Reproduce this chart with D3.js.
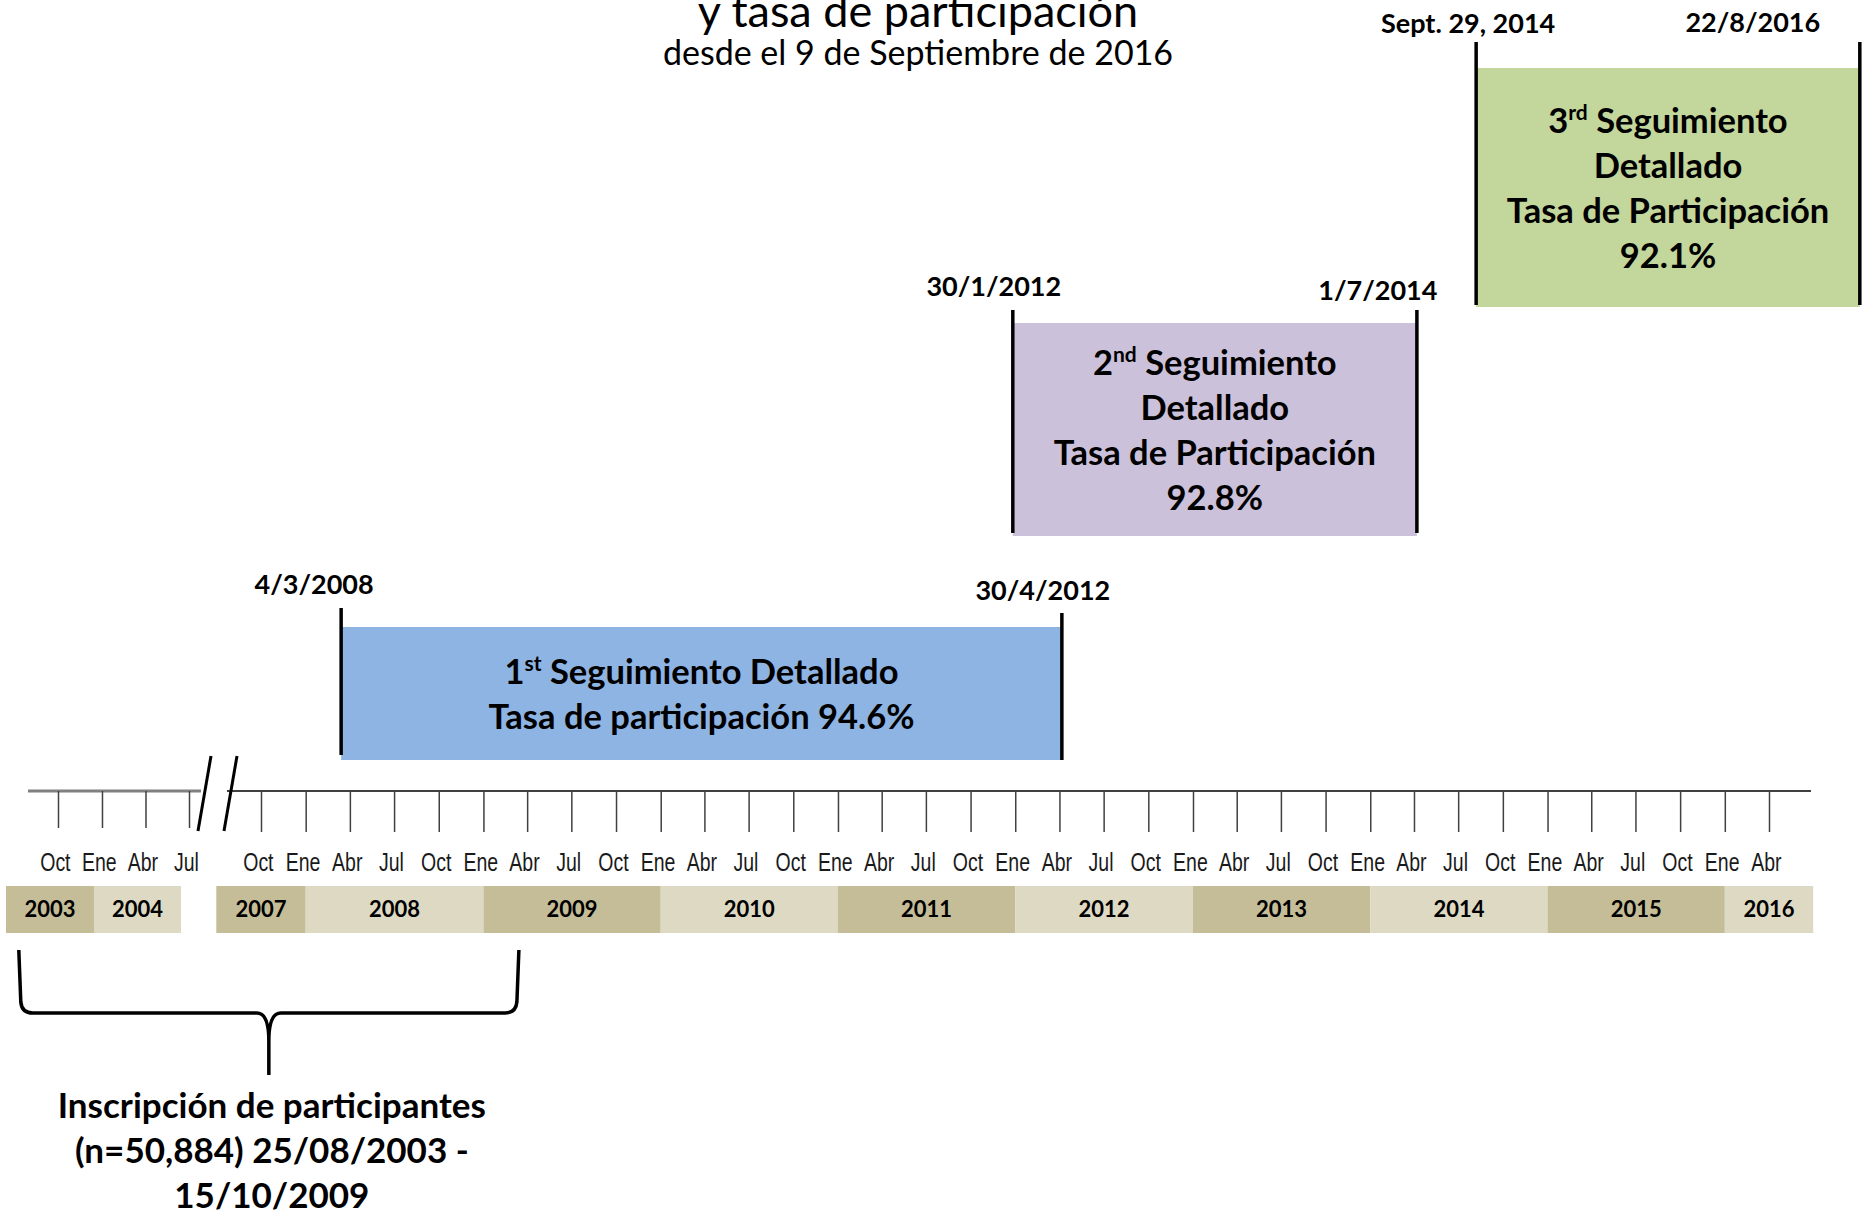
<!DOCTYPE html>
<html>
<head>
<meta charset="utf-8">
<script src="https://cdn.jsdelivr.net/npm/d3@7"></script>
<style>
  body { margin: 0; background: #fff; }
  svg { display: block; }
  .bold { font-family: Lato, "Open Sans", sans-serif; font-weight: 700; fill: #000; }
  .tick text { font-family: "Liberation Sans Narrow", "Liberation Sans", Arial, sans-serif; font-size: 25px; fill: #1a1a1a; }
</style>
</head>
<body>
<div id="chart"></div>
<script>
var width = 1865, height = 1218;

// axis: two pieces with a break between 2004 and 2007
var leftDomain = ["2003-10-01", "2004-07-01"];
var rightDomain = ["2007-10-01", "2016-04-01"];
var monthNames = {0: "Ene", 3: "Abr", 6: "Jul", 9: "Oct"};

// year bands under the axis
var bandYears = ["2003", "2004", "2007", "2008", "2009", "2010", "2011", "2012", "2013", "2014", "2015", "2016"];
var bandStart = ["2003-07-01", "2004-01-01", "2007-07-01", "2008-01-01", "2009-01-01", "2010-01-01", "2011-01-01", "2012-01-01", "2013-01-01", "2014-01-01", "2015-01-01", "2016-01-01"];
var bandEnd = ["2004-01-01", "2004-07-01", "2008-01-01", "2009-01-01", "2010-01-01", "2011-01-01", "2012-01-01", "2013-01-01", "2014-01-01", "2015-01-01", "2016-01-01", "2016-07-01"];

// follow-up periods (start/end as drawn on the picture, labels as written)
var followNum = ["1", "2", "3"];
var followSuffix = ["st", "nd", "rd"];
var followRate = ["94.6%", "92.8%", "92.1%"];
var followStart = ["2008-03-14", "2011-12-27", "2014-08-07"];
var followEnd = ["2012-04-06", "2014-04-07", "2016-10-05"];
var followStartLabel = ["4/3/2008", "30/1/2012", "Sept. 29, 2014"];
var followEndLabel = ["30/4/2012", "1/7/2014", "22/8/2016"];

// enrolment brace
var braceStart = "2003-07-11", braceEnd = "2009-03-15";
var braceLabel = ["Inscripción de participantes", "(n=50,884) 25/08/2003 -", "15/10/2009"];

var parse = d3.timeParse("%Y-%m-%d");

var svg = d3.select("#chart").append("svg")
    .attr("width", width).attr("height", height);

var axisY = 791;
var xL = d3.scaleTime().domain(leftDomain.map(parse)).range([58, 189]);
var xR = d3.scaleTime().domain(rightDomain.map(parse)).range([261, 1769]);
var isLeft = function(s) { return parse(s).getFullYear() < 2006; };
var xOf = function(s) { var d = parse(s); return isLeft(s) ? xL(d) : xR(d); };

// title (first line is off the top of the page)
svg.append("text")
    .attr("x", 918).attr("y", 27)
    .attr("text-anchor", "middle")
    .style("font-family", "Lato, sans-serif").style("font-size", "45px")
    .text("y tasa de participación");
svg.append("text")
    .attr("x", 918).attr("y", 65)
    .attr("text-anchor", "middle")
    .style("font-family", "Lato, sans-serif").style("font-size", "34px")
    .text("desde el 9 de Septiembre de 2016");

// axis lines
svg.append("line")
    .attr("x1", xL.range()[0] - 30).attr("x2", xL.range()[1] + 12)
    .attr("y1", axisY).attr("y2", axisY)
    .attr("stroke", "#808080").attr("stroke-width", 3);
svg.append("line")
    .attr("x1", xR.range()[0] - 34).attr("x2", xR.range()[1] + 42)
    .attr("y1", axisY).attr("y2", axisY)
    .attr("stroke", "#404040").attr("stroke-width", 2);

var fmt = function(d) { return monthNames[d.getMonth()]; };

var gL = svg.append("g").attr("transform", "translate(0," + axisY + ")")
    .call(d3.axisBottom(xL).tickValues(d3.timeMonth.every(3).range(xL.domain()[0], d3.timeDay.offset(xL.domain()[1], 1)))
      .tickSize(37).tickSizeOuter(0).tickFormat(fmt));
var gR = svg.append("g").attr("transform", "translate(0," + axisY + ")")
    .call(d3.axisBottom(xR).tickValues(d3.timeMonth.every(3).range(xR.domain()[0], d3.timeDay.offset(xR.domain()[1], 1)))
      .tickSize(41).tickSizeOuter(0).tickFormat(fmt));
[gL, gR].forEach(function(g) {
  g.select(".domain").remove();
  g.selectAll(".tick line").attr("stroke", "#404040").attr("stroke-width", 1.5);
  // condensed look of the original tick font
  g.selectAll(".tick text").attr("x", -4).attr("y", 80).attr("dy", 0)
    .attr("transform", "scale(0.78,1)");
  g.attr("font-family", null).attr("font-size", null);
});

// break marks
[0, 26].forEach(function(off) {
  svg.append("line")
    .attr("x1", xL.range()[1] + 9 + off).attr("y1", axisY + 40)
    .attr("x2", xL.range()[1] + 22 + off).attr("y2", axisY - 35)
    .attr("stroke", "#000").attr("stroke-width", 3);
});

// year bands (left piece sits a little left of its ticks in the original)
var bands = svg.append("g");
bandYears.forEach(function(y, i) {
  var shift = isLeft(bandStart[i]) ? -8 : 0;
  var x0 = xOf(bandStart[i]) + shift, x1 = xOf(bandEnd[i]) + shift;
  bands.append("rect")
    .attr("x", x0).attr("y", 886)
    .attr("width", x1 - x0).attr("height", 47)
    .attr("fill", i % 2 === 0 ? "#c4bd97" : "#ddd9c3");
  bands.append("text")
    .attr("class", "bold")
    .attr("x", (x0 + x1) / 2).attr("y", 917)
    .attr("text-anchor", "middle")
    .style("font-size", "22px")
    .text(y);
});

// follow-up boxes
var boxLayout = [
  {top: 627, bottom: 760, l1: 608, l2: 755, r1: 613, r2: 760, fill: "#8eb4e3", sdx: -27, sy: 594, edx: -19, ey: 600, lines: 2},
  {top: 323, bottom: 536, l1: 310, l2: 533, r1: 310, r2: 533, fill: "#ccc1da", sdx: -19, sy: 296, edx: -39, ey: 300, lines: 4},
  {top: 68, bottom: 307, l1: 42, l2: 305, r1: 42, r2: 305, fill: "#c3d69b", sdx: -8, sy: 33, edx: -107, ey: 32, lines: 4}
];
var lineH = 45;

followNum.forEach(function(n, i) {
  var L = boxLayout[i];
  var x0 = xR(parse(followStart[i])), x1 = xR(parse(followEnd[i]));
  var g = svg.append("g");
  g.append("rect")
    .attr("x", x0).attr("y", L.top)
    .attr("width", x1 - x0).attr("height", L.bottom - L.top)
    .attr("fill", L.fill);
  g.append("line").attr("x1", x0).attr("x2", x0).attr("y1", L.l1).attr("y2", L.l2)
    .attr("stroke", "#000").attr("stroke-width", 3.5);
  g.append("line").attr("x1", x1).attr("x2", x1).attr("y1", L.r1).attr("y2", L.r2)
    .attr("stroke", "#000").attr("stroke-width", 3.5);
  g.append("text").attr("class", "bold")
    .attr("x", x0 + L.sdx).attr("y", L.sy).attr("text-anchor", "middle")
    .style("font-size", "27px").text(followStartLabel[i]);
  g.append("text").attr("class", "bold")
    .attr("x", x1 + L.edx).attr("y", L.ey).attr("text-anchor", "middle")
    .style("font-size", "27px").text(followEndLabel[i]);

  var lines = L.lines === 2
    ? [[n, followSuffix[i], " Seguimiento Detallado"], ["Tasa de participación " + followRate[i]]]
    : [[n, followSuffix[i], " Seguimiento"], ["Detallado"], ["Tasa de Participación"], [followRate[i]]];
  var cx = (x0 + x1) / 2, cy = (L.top + L.bottom) / 2;
  var firstY = cy - (lines.length - 1) / 2 * lineH + 13;
  lines.forEach(function(parts, k) {
    var t = g.append("text").attr("class", "bold")
      .attr("x", cx).attr("y", firstY + k * lineH)
      .attr("text-anchor", "middle")
      .style("font-size", "34.5px");
    if (parts.length === 3) {
      t.append("tspan").text(parts[0]);
      t.append("tspan").attr("dy", -13).style("font-size", "21px").text(parts[1]);
      t.append("tspan").attr("dy", 13).text(parts[2]);
    } else {
      t.text(parts[0]);
    }
  });
});

// enrolment brace
var bx0 = xOf(braceStart), bx1 = xOf(braceEnd), bm = (bx0 + bx1) / 2;
var bTop = 950, bMid = 1013, bTip = 1075, r = 11;
var p = d3.path();
p.moveTo(bx0, bTop); p.lineTo(bx0 + 2, bMid - r); p.quadraticCurveTo(bx0 + 3, bMid, bx0 + r + 3, bMid);
p.lineTo(bm - 12, bMid); p.quadraticCurveTo(bm, bMid, bm, bMid + 28); p.lineTo(bm, bTip);
p.moveTo(bx1, bTop); p.lineTo(bx1 - 2, bMid - r); p.quadraticCurveTo(bx1 - 3, bMid, bx1 - r - 3, bMid);
p.lineTo(bm + 12, bMid); p.quadraticCurveTo(bm, bMid, bm, bMid + 28);
svg.append("path").attr("d", p.toString())
  .attr("fill", "none").attr("stroke", "#000").attr("stroke-width", 3.5);

braceLabel.forEach(function(s, k) {
  svg.append("text").attr("class", "bold")
    .attr("x", bm + 3).attr("y", 1118 + k * 45)
    .attr("text-anchor", "middle")
    .style("font-size", "35px")
    .text(s);
});
</script>
</body>
</html>
